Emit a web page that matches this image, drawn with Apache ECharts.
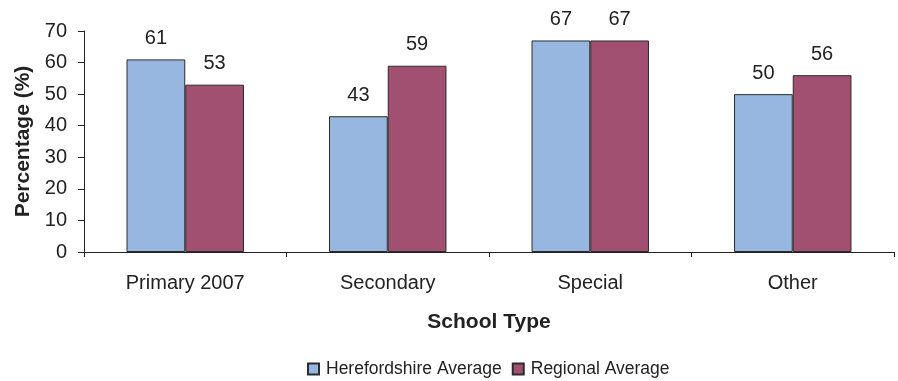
<!DOCTYPE html>
<html>
<head>
<meta charset="utf-8">
<script src="https://cdn.jsdelivr.net/npm/echarts@6/dist/echarts.min.js"></script>
<style>
  html, body { margin: 0; padding: 0; background: #fff; }
  #chart { width: 898px; height: 381px; }
</style>
</head>
<body>
<div id="chart"></div>
<script>
// School type categories and average percentages
const categories = ['Primary 2007', 'Secondary', 'Special', 'Other'];
const herefordshire = [61, 43, 67, 50];
const regional = [53, 59, 67, 56];
const yTicks = [0, 10, 20, 30, 40, 50, 60, 70];

const font = 'Liberation Sans, Arial, sans-serif';
const ink = '#222';
const chart = echarts.init(document.getElementById('chart'));

const labelStyle = {
  show: true,
  position: 'top',
  distance: 11,
  color: ink,
  fontSize: 20,
  fontFamily: font
};

chart.setOption({
  animation: false,
  grid: { left: 84, right: 4, top: 31, bottom: 129 },
  legend: {
    left: 302,
    top: 354,
    icon: 'rect',
    itemWidth: 11,
    itemHeight: 11,
    itemGap: 10,
    textStyle: { fontSize: 17.5, fontFamily: font, color: ink, padding: [0, 0, 0, 2], lineHeight: 20 },
    data: ['Herefordshire Average', 'Regional Average']
  },
  xAxis: {
    type: 'category',
    data: categories,
    name: 'School Type',
    nameLocation: 'middle',
    nameGap: 60,
    nameTextStyle: { fontSize: 21, fontWeight: 'bold', fontFamily: font, color: ink },
    axisLine: { lineStyle: { color: ink, width: 1 } },
    axisTick: { show: true, length: 5, inside: false, lineStyle: { color: ink } },
    axisLabel: { fontSize: 20, fontFamily: font, color: ink, margin: 21 }
  },
  yAxis: {
    type: 'value',
    min: yTicks[0],
    max: yTicks[yTicks.length - 1],
    interval: 10,
    name: 'Percentage (%)',
    nameLocation: 'middle',
    nameGap: 50,
    nameTextStyle: { fontSize: 21, fontWeight: 'bold', fontFamily: font, color: ink },
    axisLine: { show: true, lineStyle: { color: ink, width: 1 } },
    axisTick: { show: true, length: 6, lineStyle: { color: ink } },
    splitLine: { show: false },
    axisLabel: { fontSize: 20, fontFamily: font, color: ink, margin: 17 }
  },
  series: [
    {
      name: 'Herefordshire Average',
      type: 'bar',
      data: herefordshire,
      barGap: '0%',
      barCategoryGap: '42%',
      itemStyle: { color: '#97B7E0', borderColor: '#2b2b2b', borderWidth: 1 },
      label: labelStyle
    },
    {
      name: 'Regional Average',
      type: 'bar',
      data: regional,
      barGap: '0%',
      barCategoryGap: '42%',
      itemStyle: { color: '#A15072', borderColor: '#2b2b2b', borderWidth: 1 },
      label: labelStyle
    }
  ]
});
</script>
</body>
</html>
